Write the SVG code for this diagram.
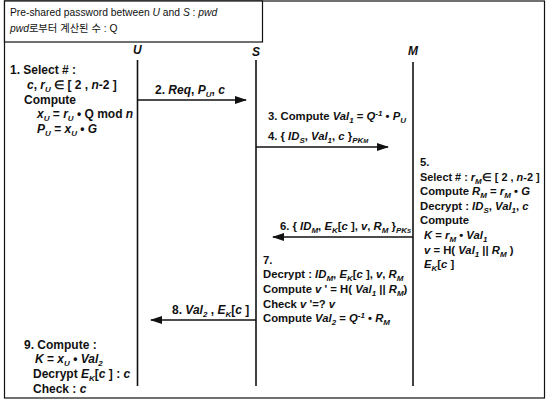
<svg xmlns="http://www.w3.org/2000/svg" width="546" height="403" viewBox="0 0 546 403">
<style>
text{font-family:"Liberation Sans",Arial,sans-serif;font-size:12px;font-weight:bold;fill:#111}
.h{font-weight:normal;font-size:10.3px}
.k{font-family:"Liberation Sans","Noto Sans CJK KR",sans-serif;font-weight:normal;font-size:10.3px}
.n{font-size:11.3px}
.t{font-size:10.9px}
.i{font-style:italic}
.s{font-size:8px;baseline-shift:-2.5px}
.p{font-size:8px;baseline-shift:4px}
.life{stroke:#111;stroke-width:1.6;fill:none}
.msg{stroke:#111;stroke-width:1.6;fill:none;marker-end:url(#ah)}
</style>
<defs>
<marker id="ah" markerWidth="12" markerHeight="8" refX="11" refY="4" orient="auto" markerUnits="userSpaceOnUse">
<path d="M0,0 L12,4 L0,8 Z" fill="#111"/>
</marker>
</defs>
<rect x="0" y="0" width="546" height="403" fill="#fff"/>
<rect x="4.5" y="1" width="540" height="397" fill="none" stroke="#111" stroke-width="1.2"/>
<g id="header">
<rect x="4.5" y="1" width="258" height="41" fill="#fff" stroke="#111" stroke-width="1.2"/>
<text class="h" x="10" y="16">Pre-shared password between <tspan class="i">U</tspan> and <tspan class="i">S</tspan> : <tspan class="i">pwd</tspan></text>
<text class="k" x="10" y="32"><tspan class="i">pwd</tspan>로부터 계산된 수 : Q</text>
</g>
<g id="U">
<text class="i" x="133" y="54">U</text>
<line class="life" x1="137.5" y1="60" x2="137.5" y2="386"/>
</g>
<g id="S">
<text class="i" x="252" y="56">S</text>
<line class="life" x1="256" y1="60" x2="256" y2="386"/>
</g>
<g id="M">
<text class="i" x="408" y="55">M</text>
<line class="life" x1="413" y1="62" x2="413" y2="386"/>
</g>
<g id="step1">
<text x="10" y="74">1. Select # :</text>
<text x="27" y="89"><tspan class="i">c</tspan>, <tspan class="i">r<tspan class="s">U</tspan></tspan> ∈ [ 2 , <tspan class="i">n</tspan>-2 ]</text>
<text x="24" y="104">Compute</text>
<text x="37" y="118"><tspan class="i">x<tspan class="s">U</tspan></tspan> = <tspan class="i">r<tspan class="s">U</tspan></tspan> • Q mod <tspan class="i">n</tspan></text>
<text x="37" y="133"><tspan class="i">P<tspan class="s">U</tspan></tspan> = <tspan class="i">x<tspan class="s">U</tspan></tspan> • <tspan class="i">G</tspan></text>
</g>
<g id="step3">
<text class="n" x="268" y="120">3. Compute <tspan class="i">Val<tspan class="s">1</tspan></tspan> = <tspan class="i">Q<tspan class="p">-1</tspan></tspan> • <tspan class="i">P<tspan class="s">U</tspan></tspan></text>
</g>
<g id="step5">
<text class="n" x="420" y="166">5.</text>
<text class="t" x="420" y="181">Select # : <tspan class="i">r<tspan class="s">M</tspan></tspan>∈ [ 2 , <tspan class="i">n</tspan>-2 ]</text>
<text class="n" x="420" y="195">Compute  <tspan class="i">R<tspan class="s">M</tspan></tspan> = <tspan class="i">r<tspan class="s">M</tspan></tspan> • <tspan class="i">G</tspan></text>
<text class="n" x="420" y="210">Decrypt : <tspan class="i">ID<tspan class="s">S</tspan></tspan>, <tspan class="i">Val<tspan class="s">1</tspan></tspan>, <tspan class="i">c</tspan></text>
<text class="n" x="420" y="224">Compute</text>
<text class="n" x="424" y="239"><tspan class="i">K</tspan> = <tspan class="i">r<tspan class="s">M</tspan></tspan> • <tspan class="i">Val<tspan class="s">1</tspan></tspan></text>
<text class="n" x="424" y="254"><tspan class="i">v</tspan> = H( <tspan class="i">Val<tspan class="s">1</tspan></tspan> || <tspan class="i">R<tspan class="s">M</tspan></tspan> )</text>
<text class="n" x="424" y="268"><tspan class="i">E<tspan class="s">K</tspan></tspan>[<tspan class="i">c</tspan> ]</text>
</g>
<g id="step7">
<text class="n" x="263" y="264">7.</text>
<text class="n" x="263" y="278">Decrypt : <tspan class="i">ID<tspan class="s">M</tspan></tspan>, <tspan class="i">E<tspan class="s">K</tspan></tspan>[<tspan class="i">c</tspan> ], <tspan class="i">v</tspan>, <tspan class="i">R<tspan class="s">M</tspan></tspan></text>
<text class="n" x="263" y="293">Compute <tspan class="i">v</tspan> ' = H( <tspan class="i">Val<tspan class="s">1</tspan></tspan> || <tspan class="i">R<tspan class="s">M</tspan></tspan>)</text>
<text class="n" x="263" y="308">Check  <tspan class="i">v</tspan> '=?  <tspan class="i">v</tspan></text>
<text class="n" x="263" y="322">Compute <tspan class="i">Val<tspan class="s">2</tspan></tspan> = <tspan class="i">Q<tspan class="p">-1</tspan></tspan> • <tspan class="i">R<tspan class="s">M</tspan></tspan></text>
</g>
<g id="step9">
<text x="24" y="349">9. Compute :</text>
<text x="35" y="363"><tspan class="i">K</tspan> = <tspan class="i">x<tspan class="s">U</tspan></tspan> • <tspan class="i">Val<tspan class="s">2</tspan></tspan></text>
<text x="33" y="378">Decrypt <tspan class="i">E<tspan class="s">K</tspan></tspan>[<tspan class="i">c</tspan> ] : <tspan class="i">c</tspan></text>
<text x="33" y="393">Check : <tspan class="i">c</tspan></text>
</g>
<g id="connectors">
<line class="msg" x1="138" y1="100" x2="246" y2="100"/>
<text x="155" y="94">2. <tspan class="i">Req</tspan>, <tspan class="i">P<tspan class="s">U</tspan></tspan>, <tspan class="i">c</tspan></text>
<line class="msg" x1="256" y1="147" x2="388" y2="147"/>
<text class="n" x="268" y="140">4. { <tspan class="i">ID<tspan class="s">S</tspan></tspan>, <tspan class="i">Val<tspan class="s">1</tspan></tspan>, <tspan class="i">c</tspan> }<tspan class="i s">PK<tspan font-size="6">M</tspan></tspan></text>
<line class="msg" x1="413" y1="237" x2="273" y2="237"/>
<text class="n" x="280" y="230">6. { <tspan class="i">ID<tspan class="s">M</tspan></tspan>, <tspan class="i">E<tspan class="s">K</tspan></tspan>[<tspan class="i">c</tspan> ], <tspan class="i">v</tspan>, <tspan class="i">R<tspan class="s">M</tspan></tspan> }<tspan class="i s">PK<tspan font-size="6">S</tspan></tspan></text>
<line class="msg" x1="256" y1="320" x2="151" y2="320"/>
<text x="172" y="314">8. <tspan class="i">Val<tspan class="s">2</tspan></tspan> , <tspan class="i">E<tspan class="s">K</tspan></tspan>[<tspan class="i">c</tspan> ]</text>
</g>
</svg>
